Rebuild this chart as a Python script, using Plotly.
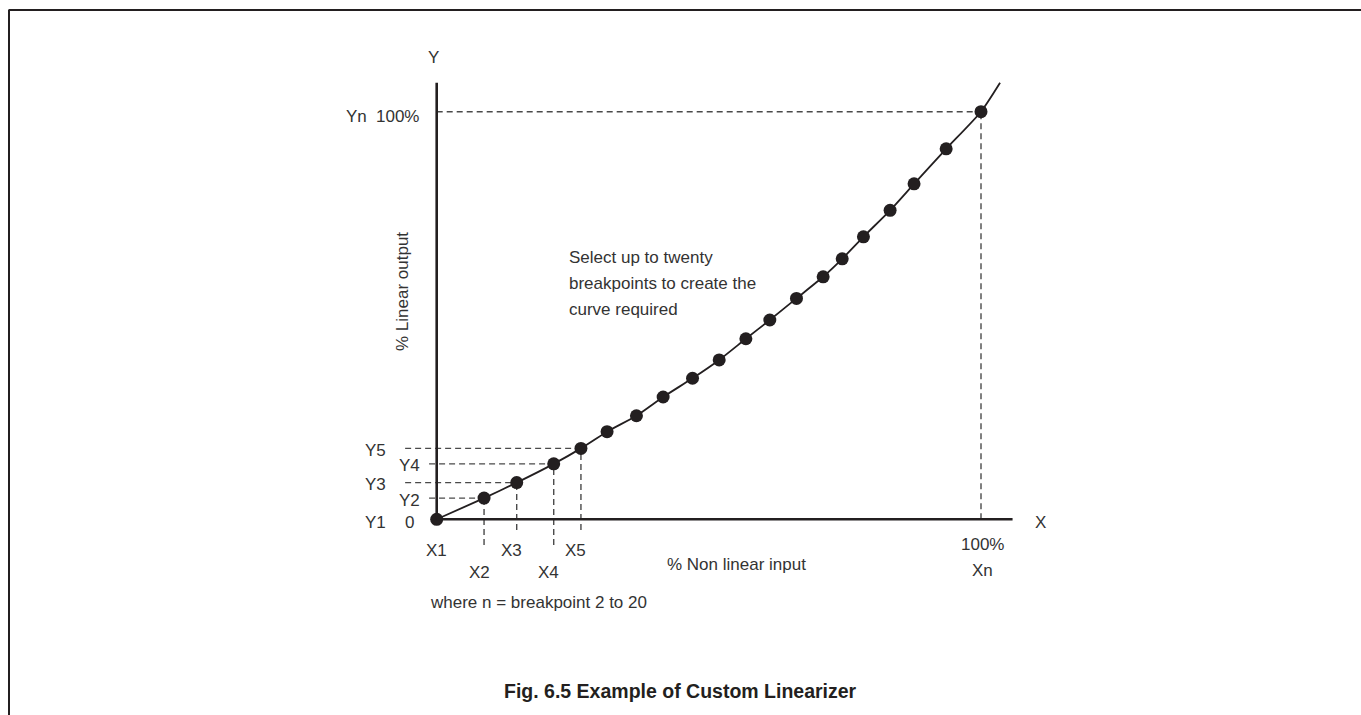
import plotly.graph_objects as go

# Breakpoints of the custom linearizer (percent input vs percent output)
bp_x = [0, 8.7, 14.7, 21.5, 26.5, 31.3, 36.7, 41.6, 47.0, 51.9,
        56.8, 61.2, 66.1, 71.0, 74.5, 78.4, 83.3, 87.7, 93.6, 100]
bp_y = [0, 5.2, 9.0, 13.6, 17.4, 21.5, 25.4, 30.0, 34.6, 39.1,
        44.3, 48.9, 54.2, 59.5, 63.9, 69.3, 75.8, 82.3, 90.9, 100]
# curve continues a little beyond the last breakpoint
tail_x = [103.5]
tail_y = [107.1]

# labelled breakpoints near the origin
low_labels_x = ["X1", "X2", "X3", "X4", "X5"]
low_labels_y = ["Y1", "Y2", "Y3", "Y4", "Y5"]

W, H = 1361, 715
# pixel layout of the axes: origin and scale
OX, OY = 436.7, 519.3
SX, SY = 5.443, 4.076

INK = "#231f20"
TXT = "#333333"
DASH = "#4a4a4a"
FONT = "Liberation Sans"
FS = 17


def fx(px):
    return px / W


def fy(py):
    return 1 - py / H


fig = go.Figure()

# smooth curve through the breakpoints
fig.add_trace(go.Scatter(
    x=bp_x + tail_x, y=bp_y + tail_y, mode="lines",
    line=dict(color=INK, width=1.8, shape="spline", smoothing=0.6),
    hoverinfo="skip", showlegend=False))

# breakpoint markers
fig.add_trace(go.Scatter(
    x=bp_x, y=bp_y, mode="markers",
    marker=dict(color=INK, size=13, line=dict(width=0)),
    showlegend=False))

shapes = []

# axes
shapes.append(dict(type="line", xref="x", yref="y", x0=0, y0=0, x1=0, y1=107.1,
                   line=dict(color=INK, width=2.6)))
shapes.append(dict(type="line", xref="x", yref="y", x0=0, y0=0, x1=105.8, y1=0,
                   line=dict(color=INK, width=2.6)))

dash_line = dict(color=DASH, width=1.4, dash="6px,4px")

# guide lines for Xn / Yn
shapes.append(dict(type="line", xref="x", yref="y", x0=0, y0=bp_y[-1],
                   x1=bp_x[-1], y1=bp_y[-1], line=dash_line, layer="below"))
shapes.append(dict(type="line", xref="x", yref="y", x0=bp_x[-1], y0=0,
                   x1=bp_x[-1], y1=bp_y[-1], line=dash_line, layer="below"))

# guide lines for the first breakpoints
h_start = [None, -1.4, -5.8, -1.4, -5.8]
v_end = [None, -6.3, -2.6, -6.3, -2.6]
for i in range(1, 5):
    shapes.append(dict(type="line", xref="x", yref="y", x0=h_start[i], y0=bp_y[i],
                       x1=bp_x[i], y1=bp_y[i], line=dash_line, layer="below"))
    shapes.append(dict(type="line", xref="x", yref="y", x0=bp_x[i], y0=v_end[i],
                       x1=bp_x[i], y1=bp_y[i], line=dash_line, layer="below"))

# page frame (top and left edges)
shapes.append(dict(type="line", xref="paper", yref="paper", x0=fx(8.5), y0=fy(10),
                   x1=1, y1=fy(10), line=dict(color=INK, width=2)))
shapes.append(dict(type="line", xref="paper", yref="paper", x0=fx(9), y0=fy(10),
                   x1=fx(9), y1=0, line=dict(color=INK, width=2)))

ann = []


def label(text, px, py, size=FS, anchor="center", angle=0, bold=False):
    ann.append(dict(
        text=f"<b>{text}</b>" if bold else text,
        x=fx(px), y=fy(py), xref="paper", yref="paper",
        xanchor=anchor, yanchor="middle", showarrow=False, textangle=angle,
        font=dict(family=FONT, size=size, color=INK if bold else TXT)))


label("Y", 433, 57)
label("Yn", 356, 117)
label("100%", 397, 117)
label("X", 1040, 522)
label("100%", 982, 544)
label("Xn", 982, 570)
label("0", 409, 522)

# Y1..Y5 labels, alternating columns
y_label_px = [375, 410, 375, 410, 375]
for i, t in enumerate(low_labels_y):
    py = OY - SY * bp_y[i] + (3 if i == 0 else 2)
    label(t, y_label_px[i], py)

# X1..X5 labels, alternating rows
x_label_row = [550, 572, 550, 572, 550]
for i, t in enumerate(low_labels_x):
    px = OX + SX * bp_x[i] - (0 if i == 0 else 5)
    label(t, px, x_label_row[i])

label("% Linear output", 402, 292, angle=-90)
label("% Non linear input", 737, 564)
label("where n = breakpoint 2 to 20", 428, 602, anchor="left")

label("Select up to twenty", 567, 257, anchor="left")
label("breakpoints to create the", 567, 283, anchor="left")
label("curve required", 567, 309, anchor="left")

label("Fig. 6.5 Example of Custom Linearizer", 680, 691, size=19.5, bold=True)

fig.update_layout(
    width=W, height=H,
    margin=dict(l=0, r=0, t=0, b=0),
    paper_bgcolor="white", plot_bgcolor="white",
    xaxis=dict(range=[-OX / SX, (W - OX) / SX], visible=False, fixedrange=True),
    yaxis=dict(range=[(OY - H) / SY, OY / SY], visible=False, fixedrange=True),
    shapes=shapes, annotations=ann, showlegend=False,
)

fig.write_html("out.html")
